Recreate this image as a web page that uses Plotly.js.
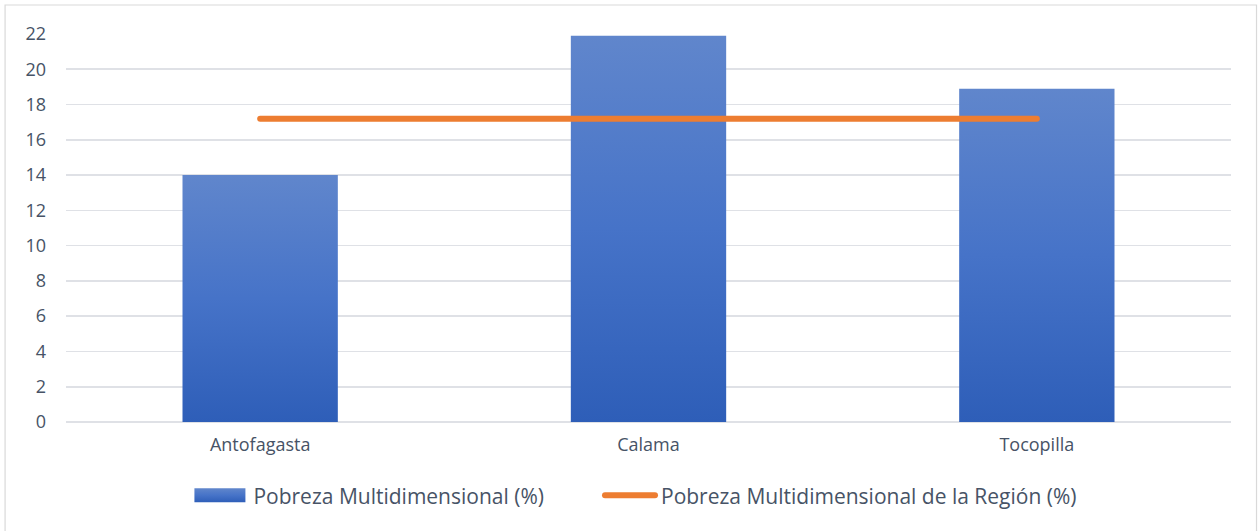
<!DOCTYPE html>
<html>
<head>
<meta charset="utf-8">
<script src="https://cdn.plot.ly/plotly-3.0.1.min.js"></script>
<style>html,body{margin:0;padding:0;background:#fff;}#chart{width:1260px;height:531px;}</style>
</head>
<body>
<div id="chart"></div>
<script>
const categories = ["Antofagasta", "Calama", "Tocopilla"];
const pobrezaComuna = [14.0, 21.9, 18.9];
const pobrezaRegion = [17.2, 17.2, 17.2];
const yTicks = [0, 2, 4, 6, 8, 10, 12, 14, 16, 18, 20, 22];

const textColor = "#475366";
const fontFam = "'Open Sans', Lato, sans-serif";

const traces = [
  {
    type: "bar",
    x: categories,
    y: pobrezaComuna,
    name: "Pobreza Multidimensional (%)",
    width: 0.4,
    marker: { color: "#4472c4", line: { width: 0 } },
    hoverinfo: "x+y"
  },
  {
    type: "scatter",
    mode: "lines",
    x: categories,
    y: pobrezaRegion,
    name: "Pobreza Multidimensional de la Región (%)",
    line: { color: "#ed7d31", width: 6 }
  }
];

const layout = {
  width: 1260,
  height: 531,
  margin: { l: 66, r: 28.5, t: 34, b: 109 },
  paper_bgcolor: "#ffffff",
  plot_bgcolor: "#ffffff",
  font: { family: fontFam, color: textColor, size: 18 },
  showlegend: true,
  legend: {
    orientation: "h",
    x: 0.4686, xanchor: "center",
    y: -0.19, yanchor: "middle",
    bgcolor: "rgba(0,0,0,0)",
    font: { size: 21, color: textColor },
    itemwidth: 40,
    traceorder: "normal"
  },
  xaxis: {
    type: "category",
    range: [-0.5, 2.5],
    showgrid: false,
    showline: false,
    zeroline: false,
    ticks: "",
    tickfont: { size: 18, color: textColor },
    ticklabelstandoff: 10
  },
  yaxis: {
    range: [0, 22],
    tickvals: yTicks,
    ticktext: yTicks.map(String),
    showgrid: true,
    gridcolor: "#dfe1e6",
    gridwidth: 1.6,
    zeroline: true,
    zerolinecolor: "#dfe1e6",
    zerolinewidth: 1.6,
    showline: false,
    ticks: "",
    tickfont: { size: 18, color: textColor },
    ticklabelstandoff: 19
  },
  shapes: [
    {
      type: "rect", xref: "paper", yref: "paper",
      x0: -0.0523, x1: 1.0219, y0: -0.32, y1: 1.0747,
      line: { color: "#d9d9d9", width: 1.2 },
      fillcolor: "rgba(0,0,0,0)",
      layer: "below"
    }
  ]
};

Plotly.newPlot("chart", traces, layout, { displayModeBar: false, staticPlot: true }).then(function (gd) {
  const svgNS = "http://www.w3.org/2000/svg";
  const svg = gd.querySelector(".main-svg");
  let defs = svg.querySelector("defs");
  if (!defs) { defs = document.createElementNS(svgNS, "defs"); svg.insertBefore(defs, svg.firstChild); }
  const grad = document.createElementNS(svgNS, "linearGradient");
  grad.setAttribute("id", "barGrad");
  grad.setAttribute("x1", "0"); grad.setAttribute("y1", "0");
  grad.setAttribute("x2", "0"); grad.setAttribute("y2", "1");
  [["0%", "#6086cc"], ["50%", "#4673c8"], ["100%", "#2e5eb8"]].forEach(function (s) {
    const st = document.createElementNS(svgNS, "stop");
    st.setAttribute("offset", s[0]);
    st.setAttribute("stop-color", s[1]);
    grad.appendChild(st);
  });
  defs.appendChild(grad);
  gd.querySelectorAll(".bars .point path").forEach(function (p) {
    p.style.fill = "url(#barGrad)";
  });
  gd.querySelectorAll(".legend .scrollbox").forEach(function (el) {
    el.removeAttribute("clip-path");
  });
  const items = gd.querySelectorAll(".legend .traces");
  items.forEach(function (it, idx) {
    const lines = it.querySelectorAll(".legendlines path");
    if (lines.length) {
      lines.forEach(function (p) {
        p.setAttribute("d", "M-6,0h50");
        p.style.strokeLinecap = "round";
      });
    } else {
      it.querySelectorAll(".legendpoints path").forEach(function (p) {
        p.setAttribute("d", "M-34,-7h51v14h-51Z");
        p.style.fill = "url(#barGrad)";
        p.style.stroke = "none";
      });
    }
    if (idx === 1) {
      const tr = it.getAttribute("transform") || "";
      const m = tr.match(/translate\(\s*([-\d.]+)[ ,]+([-\d.]+)\s*\)/);
      if (m) {
        it.setAttribute("transform", "translate(" + (parseFloat(m[1]) + 62) + "," + m[2] + ")");
      }
    }
  });
  gd.querySelectorAll(".scatterlayer .js-line").forEach(function (p) {
    p.style.strokeLinecap = "round";
  });
});
</script>
</body>
</html>
